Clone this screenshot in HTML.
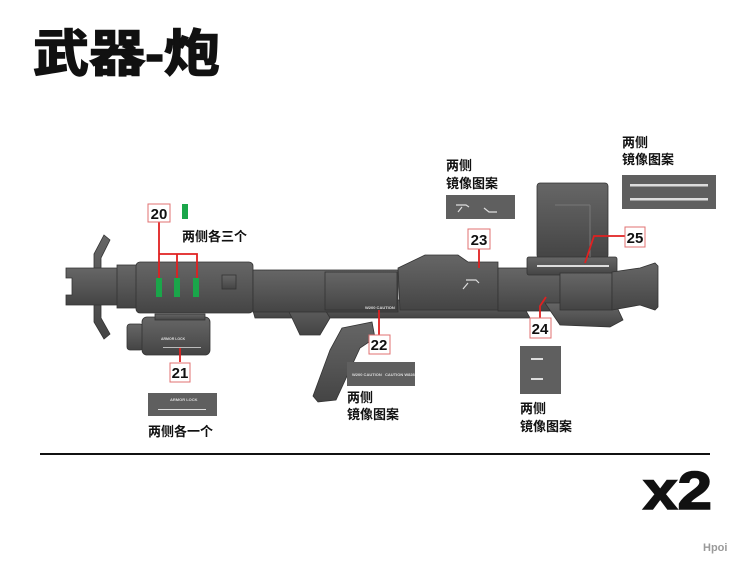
<!DOCTYPE html>
<html><head><meta charset="utf-8"><style>
html,body{margin:0;padding:0;background:#fff;}
svg{display:block;}
text{font-family:"Liberation Sans","Noto Sans CJK SC",sans-serif;font-weight:bold;}
</style></head><body>
<svg width="750" height="564" viewBox="0 0 750 564" xmlns="http://www.w3.org/2000/svg">
<defs>
<linearGradient id="g" x1="0" y1="0" x2="0" y2="1">
<stop offset="0" stop-color="#666"/><stop offset="0.5" stop-color="#565656"/><stop offset="1" stop-color="#444"/>
</linearGradient>
</defs>
<text x="33" y="71" font-size="50" fill="#111" stroke="#111" stroke-width="1.5" textLength="187" lengthAdjust="spacingAndGlyphs">武器-炮</text>

<!-- gun -->
<g fill="url(#g)" stroke="#333" stroke-width="0.8">
<polygon points="104,235 110,240 101,258 101,318 110,334 104,339 94,322 94,254"/>
<path d="M66,268 H118 V305 H66 V295 H72 V278 H66 Z"/>
<rect x="117" y="265" width="20" height="43"/>
<rect x="127" y="324" width="16" height="26" rx="3"/>
<rect x="142" y="317" width="68" height="38" rx="5"/>
<rect x="155" y="314" width="50" height="6"/>
<polygon points="250,300 520,300 530,318 255,318"/>
<polygon points="282,298 318,298 330,318 320,335 300,335 292,318"/>
<polygon points="342,328 372,322 375,338 360,348 336,400 318,402 313,396 330,350"/>
<rect x="136" y="262" width="117" height="51" rx="4"/>
<rect x="222" y="275" width="14" height="14"/>
<rect x="253" y="270" width="145" height="42"/>
<rect x="325" y="272" width="72" height="38"/>
<polygon points="398,268 425,255 458,255 468,262 498,262 498,310 400,310"/>
<rect x="498" y="268" width="62" height="43"/>
<polygon points="545,303 615,303 623,320 610,327 560,325"/>
<rect x="537" y="183" width="71" height="75" rx="3"/>
<rect x="527" y="257" width="90" height="18" rx="2"/>
<rect x="560" y="273" width="52" height="37"/>
<polygon points="612,272 640,268 655,263 658,266 658,307 655,310 640,305 612,310"/>
</g>
<g fill="none" stroke="#777" stroke-width="1">
<line x1="555" y1="205" x2="590" y2="205"/><line x1="590" y1="205" x2="590" y2="257"/>
</g>
<g fill="#ddd" font-size="3">
<rect x="537" y="265" width="72" height="2" fill="#ddd"/>
<text x="365" y="309" font-size="4">W200 CAUTION</text>
<text x="161" y="340" font-size="3.5">ARMOR LOCK</text>
</g>
<rect x="163" y="347" width="38" height="1" fill="#bbb"/>
<path d="M466,280 h10 l3,3 M468,283 l-5,6" stroke="#ddd" fill="none" stroke-width="1.2"/>

<g fill="#1aa64a">
<rect x="182" y="204" width="6" height="15"/>
<rect x="156" y="278" width="6" height="19"/>
<rect x="174" y="278" width="6" height="19"/>
<rect x="193" y="278" width="6" height="19"/>
</g>

<g stroke="#e02020" stroke-width="1.8" fill="none">
<polyline points="159,222 159,278"/>
<polyline points="159,254 197,254 197,278"/>
<polyline points="177,254 177,278"/>
<polyline points="180,348 180,362"/>
<polyline points="379,310 379,335"/>
<polyline points="479,249 479,268"/>
<polyline points="540,318 540,306 546,297"/>
<polyline points="625,236 594,236 585,263"/>
</g>

<g font-size="15" fill="#111" text-anchor="middle">
<rect x="148" y="204" width="22" height="18" fill="#fff" stroke="#e07070"/><text x="159" y="219">20</text>
<rect x="170" y="363" width="20" height="19" fill="#fff" stroke="#e07070"/><text x="180" y="378">21</text>
<rect x="369" y="335" width="21" height="19" fill="#fff" stroke="#e07070"/><text x="379" y="350">22</text>
<rect x="468" y="229" width="22" height="20" fill="#fff" stroke="#e07070"/><text x="479" y="245">23</text>
<rect x="530" y="318" width="21" height="20" fill="#fff" stroke="#e07070"/><text x="540" y="334">24</text>
<rect x="625" y="227" width="20" height="20" fill="#fff" stroke="#e07070"/><text x="635" y="243">25</text>
</g>

<g fill="#5f5f5f">
<rect x="148" y="393" width="69" height="23"/>
<rect x="347" y="362" width="68" height="24"/>
<rect x="446" y="195" width="69" height="24"/>
<rect x="520" y="346" width="41" height="48"/>
<rect x="622" y="175" width="94" height="34"/>
</g>
<g fill="#ddd" font-size="4">
<text x="170" y="401">ARMOR LOCK</text>
<rect x="158" y="409" width="48" height="1"/>
<text x="352" y="376">W200 CAUTION</text><text x="385" y="376">CAUTION W828</text>
<rect x="630" y="184" width="78" height="2.5"/>
<rect x="630" y="198" width="78" height="2.5"/>
<rect x="531" y="358" width="12" height="2"/>
<rect x="531" y="378" width="12" height="2"/>
</g>
<path d="M456,205 h10 l3,2 M462,207 l-4,5 M484,208 l5,4 h8" stroke="#ddd" fill="none" stroke-width="1.2"/>

<g font-size="13" fill="#111">
<text x="182" y="241">两侧各三个</text>
<text x="148" y="436">两侧各一个</text>
<text x="347" y="402">两侧</text><text x="347" y="419">镜像图案</text>
<text x="446" y="170">两侧</text><text x="446" y="188">镜像图案</text>
<text x="520" y="413">两侧</text><text x="520" y="431">镜像图案</text>
<text x="622" y="147">两侧</text><text x="622" y="164">镜像图案</text>
</g>

<line x1="40" y1="454" x2="710" y2="454" stroke="#111" stroke-width="2"/>
<text x="643" y="509" font-size="54" fill="#111" stroke="#111" stroke-width="1.5" textLength="69" lengthAdjust="spacingAndGlyphs">x2</text>
<text x="703" y="551" font-size="11" fill="#9a9a9a" font-weight="normal">Hpoi</text>
</svg>
</body></html>
